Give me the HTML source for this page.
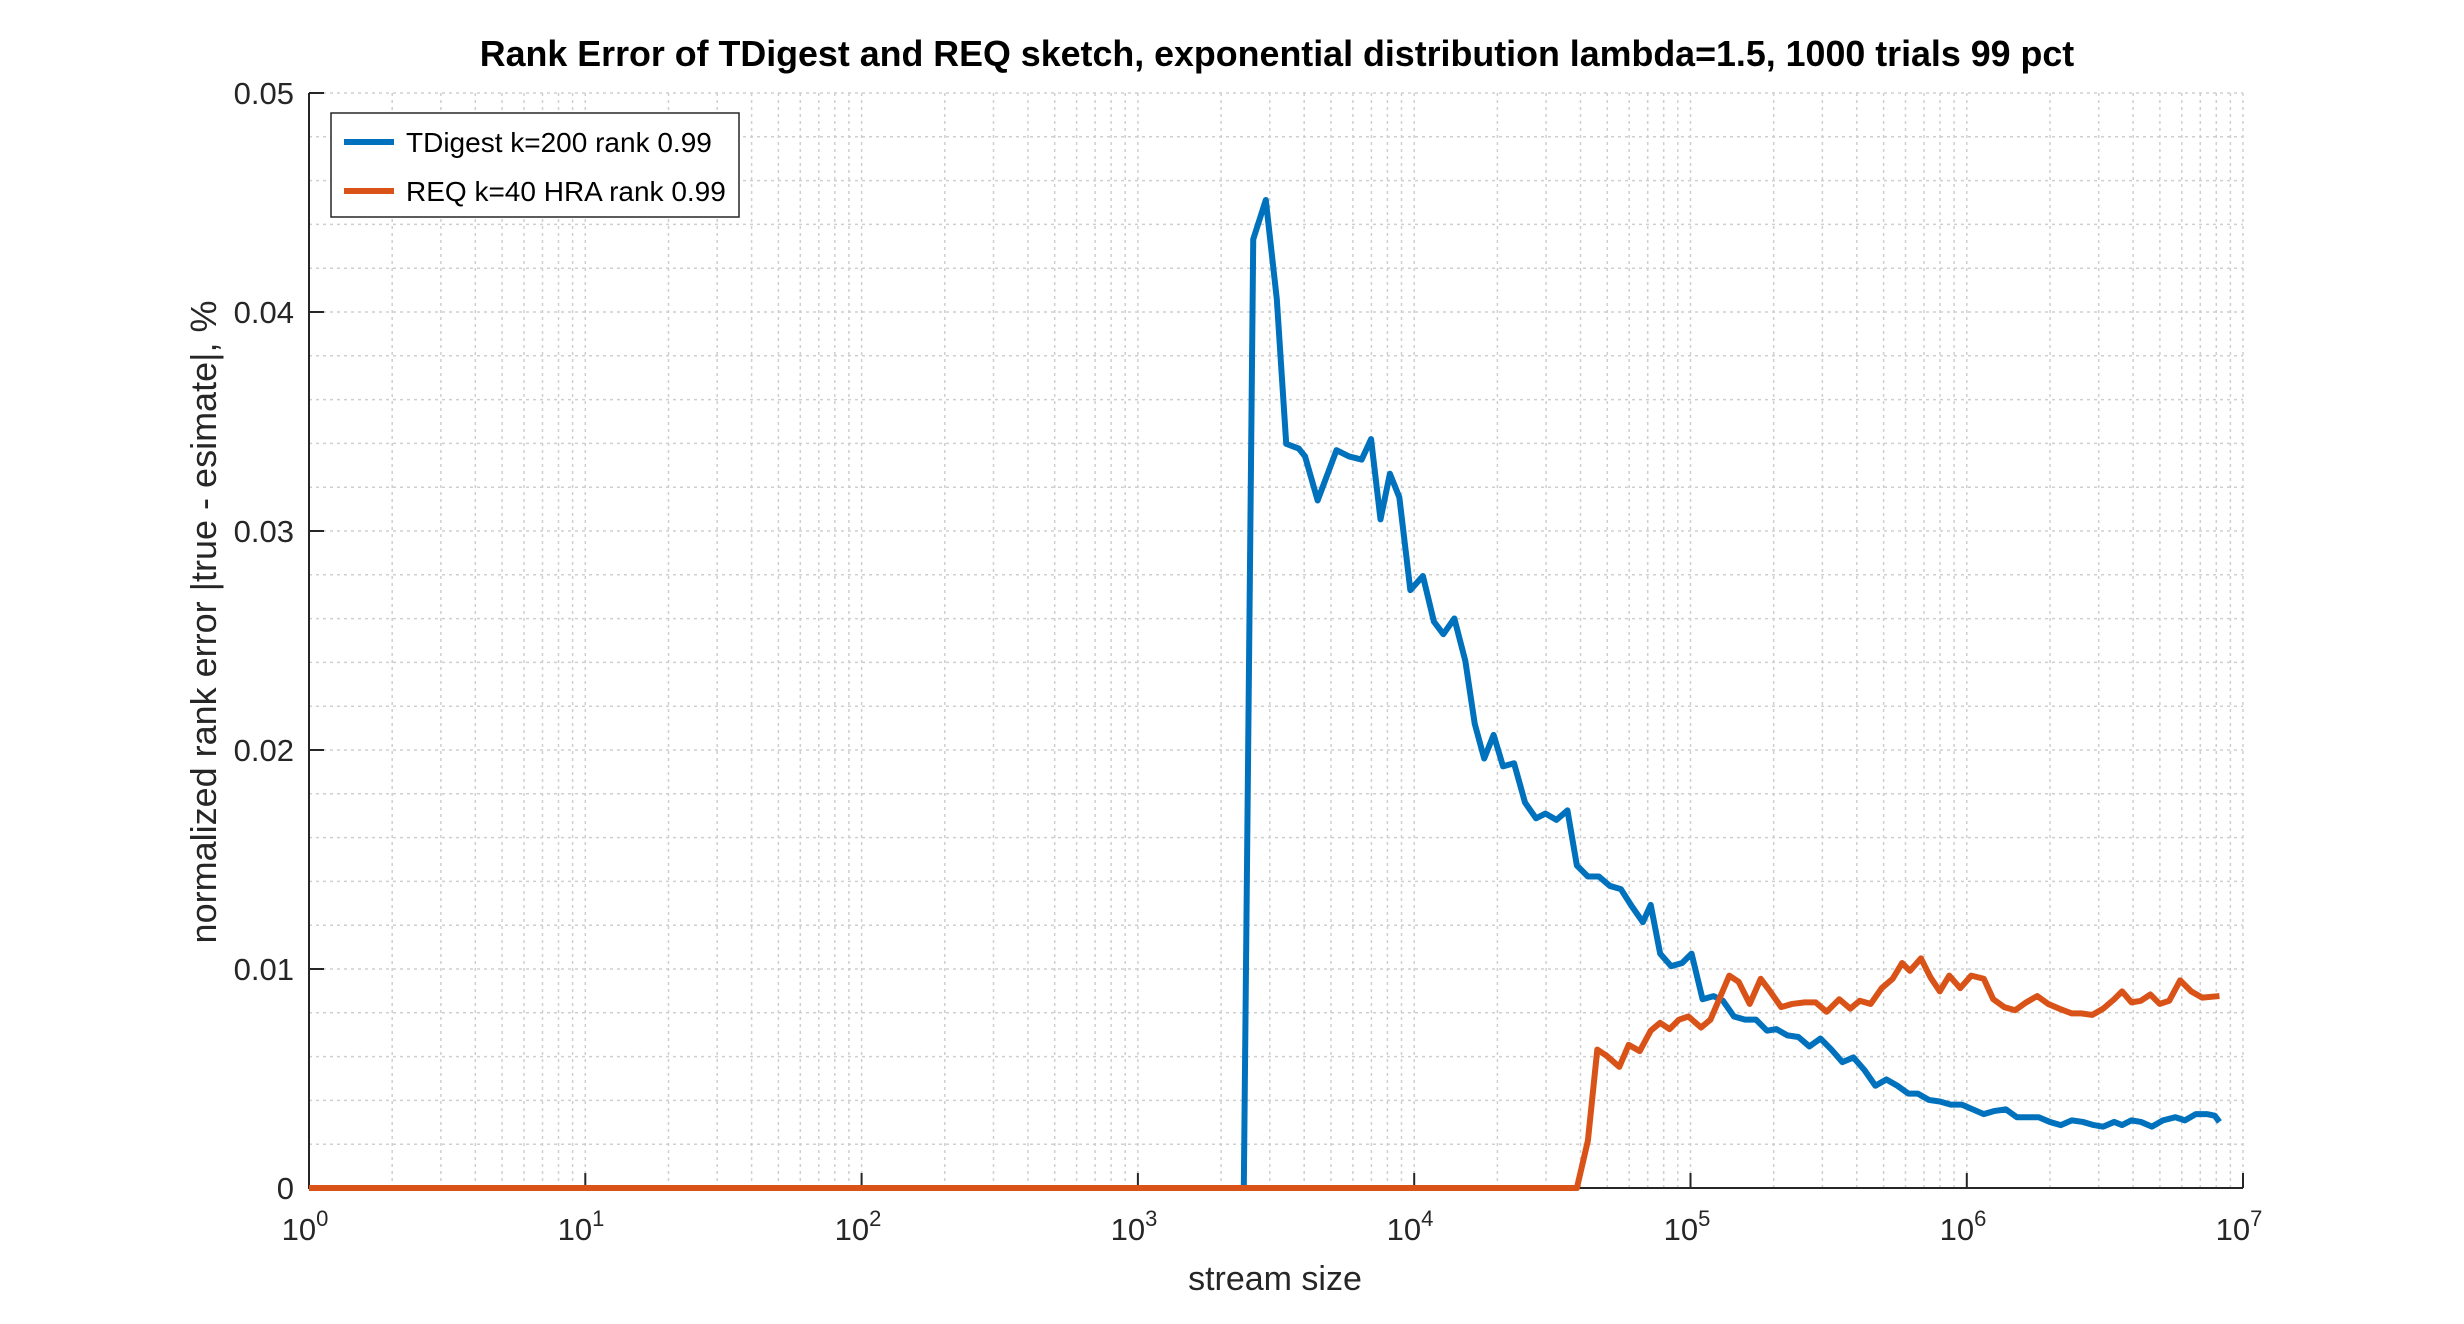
<!DOCTYPE html>
<html><head><meta charset="utf-8"><style>
html,body{margin:0;padding:0;background:#fff;}
svg{display:block;font-family:"Liberation Sans",sans-serif;}
</style></head><body>
<svg width="2464" height="1324" viewBox="0 0 2464 1324" xmlns="http://www.w3.org/2000/svg">
<rect width="2464" height="1324" fill="#fff"/>
<g stroke="#cfcfcf" stroke-width="1.5" stroke-dasharray="3,4">
<path d="M309 93H2243M309 136.8H2243M309 180.6H2243M309 224.4H2243M309 268.2H2243M309 312H2243M309 355.8H2243M309 399.6H2243M309 443.4H2243M309 487.2H2243M309 531H2243M309 574.8H2243M309 618.6H2243M309 662.4H2243M309 706.2H2243M309 750H2243M309 793.8H2243M309 837.6H2243M309 881.4H2243M309 925.2H2243M309 969H2243M309 1012.8H2243M309 1056.6H2243M309 1100.4H2243M309 1144.2H2243"/>
<path d="
M392.2 93V1188M440.9 93V1188M475.3 93V1188M502.1 93V1188M524.0 93V1188M542.5 93V1188M558.5 93V1188M572.6 93V1188M585.3 93V1188
M668.5 93V1188M717.2 93V1188M751.6 93V1188M778.4 93V1188M800.3 93V1188M818.8 93V1188M834.8 93V1188M848.9 93V1188M861.6 93V1188
M944.8 93V1188M993.5 93V1188M1027.9 93V1188M1054.7 93V1188M1076.6 93V1188M1095.1 93V1188M1111.1 93V1188M1125.2 93V1188M1137.9 93V1188
M1221.1 93V1188M1269.8 93V1188M1304.2 93V1188M1331.0 93V1188M1352.9 93V1188M1371.4 93V1188M1387.4 93V1188M1401.5 93V1188M1414.2 93V1188
M1497.4 93V1188M1546.1 93V1188M1580.5 93V1188M1607.3 93V1188M1629.2 93V1188M1647.7 93V1188M1663.7 93V1188M1677.8 93V1188M1690.5 93V1188
M1773.7 93V1188M1822.4 93V1188M1856.8 93V1188M1883.6 93V1188M1905.5 93V1188M1924.0 93V1188M1940.0 93V1188M1954.1 93V1188M1966.8 93V1188
M2050.0 93V1188M2098.7 93V1188M2133.1 93V1188M2159.9 93V1188M2181.8 93V1188M2200.3 93V1188M2216.3 93V1188M2230.4 93V1188M2243 93V1188"/>
</g>
<g stroke="#262626" stroke-width="2" fill="none">
<path d="M309 93V1188H2243"/>
<path d="M309 93H324M309 312H324M309 531H324M309 750H324M309 969H324"/>
<path d="M585.3 1188V1173M861.6 1188V1173M1137.9 1188V1173M1414.2 1188V1173M1690.5 1188V1173M1966.8 1188V1173M2243 1188V1173"/>
</g>
<g transform="translate(309,93) scale(1.5711,1.5733) translate(-196,-59)" fill="none" stroke-linejoin="round">
<polyline vector-effect="non-scaling-stroke" stroke="#0072BD" stroke-width="6" points="196,755 791,755 797,152 805,127 812,190 818,282 826,285 830,290 838,318 850,286 858,290 866,292 872,279 878,330 884,301 890,316 897,375 905,366 912,395 918,403 925,393 932,420 938,460 944,482 950,467 956,487 963,485 970,510 977,520 983,517 990,521 997,515 1003,550 1010,557 1017,557 1024,563 1031,565 1038,576 1045,586 1050,575 1056,606 1063,614 1070,612 1076,606 1083,635 1090,633 1096,636 1103,646 1110,648 1117,648 1124,655 1130,654 1137,658 1144,659 1151,665 1158,660 1165,667 1172,675 1179,672 1186,680 1193,690 1200,686 1207,690 1214,695 1220,695 1227,699 1234,700 1241,702 1248,702 1255,705 1262,708 1269,706 1276,705 1283,710 1290,710 1297,710 1304,713 1311,715 1318,712 1325,713 1332,715 1338,716 1345,713 1350,715 1356,712 1362,713 1369,716 1376,712 1384,710 1390,712 1397,708 1404,708 1409,709 1412,713"/>
<polyline vector-effect="non-scaling-stroke" stroke="#D95319" stroke-width="6" points="196,755 1003,755 1010,725 1016,667 1022,671 1030,678 1036,664 1043,668 1050,655 1056,650 1062,654 1068,648 1074,646 1082,653 1088,648 1094,634 1100,620 1106,624 1113,638 1120,622 1126,630 1133,640 1140,638 1148,637 1155,637 1162,643 1170,635 1177,641 1183,636 1190,638 1197,628 1204,622 1210,612 1215,617 1222,609 1228,621 1234,630 1240,620 1247,628 1254,620 1262,622 1268,635 1275,640 1282,642 1289,637 1296,633 1303,638 1310,641 1318,644 1324,644 1331,645 1338,641 1345,635 1350,630 1356,637 1362,636 1368,632 1374,638 1380,636 1387,623 1394,630 1401,634 1412,633"/>
</g>
<g fill="#262626" font-size="31" text-anchor="end">
<text x="294" y="104">0.05</text>
<text x="294" y="323">0.04</text>
<text x="294" y="542">0.03</text>
<text x="294" y="761">0.02</text>
<text x="294" y="980">0.01</text>
<text x="294" y="1199">0</text>
</g>
<g fill="#262626" font-size="31" text-anchor="middle">
<text x="305" y="1240">10<tspan font-size="22" dy="-14">0</tspan></text>
<text x="581" y="1240">10<tspan font-size="22" dy="-14">1</tspan></text>
<text x="858" y="1240">10<tspan font-size="22" dy="-14">2</tspan></text>
<text x="1134" y="1240">10<tspan font-size="22" dy="-14">3</tspan></text>
<text x="1410" y="1240">10<tspan font-size="22" dy="-14">4</tspan></text>
<text x="1687" y="1240">10<tspan font-size="22" dy="-14">5</tspan></text>
<text x="1963" y="1240">10<tspan font-size="22" dy="-14">6</tspan></text>
<text x="2239" y="1240">10<tspan font-size="22" dy="-14">7</tspan></text>
<text x="1275" y="1290" font-size="34">stream size</text>
<text x="1277" y="66" font-size="35.8" font-weight="bold" fill="#000">Rank Error of TDigest and REQ sketch, exponential distribution lambda=1.5, 1000 trials 99 pct</text>
<text transform="translate(216,622) rotate(-90)" font-size="36">normalized rank error |true - esimate|, %</text>
</g>
<rect x="331" y="113" width="408" height="104" fill="#fff" stroke="#262626" stroke-width="1.5"/>
<line x1="344" y1="142" x2="394" y2="142" stroke="#0072BD" stroke-width="6"/>
<line x1="344" y1="191" x2="394" y2="191" stroke="#D95319" stroke-width="6"/>
<g font-size="28" fill="#000">
<text x="406" y="152">TDigest k=200 rank 0.99</text>
<text x="406" y="201">REQ k=40 HRA rank 0.99</text>
</g>
</svg>
</body></html>
